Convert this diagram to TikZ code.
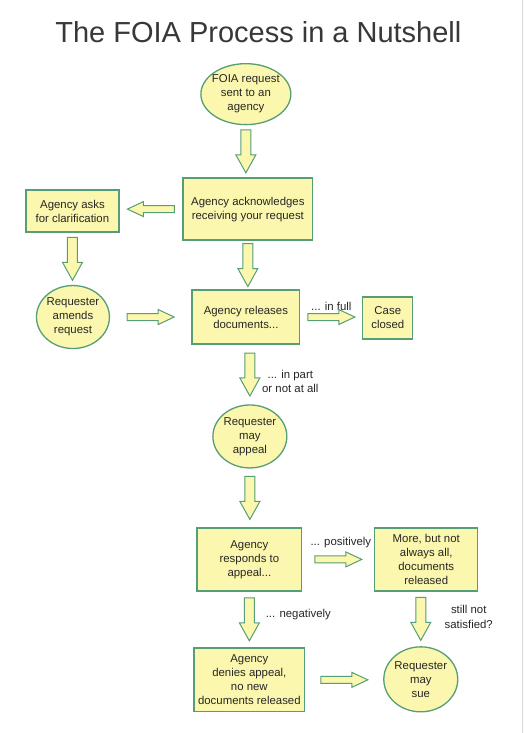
\documentclass[tikz,border=0pt]{standalone}
\usepackage{fontspec}
\setmainfont{Liberation Sans}
\usetikzlibrary{calc,shapes.geometric}

\definecolor{boxfill}{RGB}{251,247,174}
\definecolor{boxline}{RGB}{86,158,118}
\definecolor{inkgray}{RGB}{38,38,38}

\newcommand{\flowlen}{44}
\newcommand{\flowshaft}{5}
\newcommand{\flowhead}{10}
\newcommand{\flowtip}{18}

\tikzset{
  every node/.style={text=inkgray, font=\fontsize{11.4}{14}\selectfont},
  stepbox/.style={draw=boxline, fill=boxfill, line width=1.3pt, rectangle, align=center, inner sep=0pt},
  oval/.style={draw=boxline, fill=boxfill, line width=1.3pt, ellipse, align=center, inner xsep=-4pt, inner ysep=0pt},
  note/.style={align=center},
  tall/.code={\renewcommand{\flowlen}{43}\renewcommand{\flowshaft}{5}\renewcommand{\flowhead}{10}\renewcommand{\flowtip}{18}},
  flat/.code={\renewcommand{\flowlen}{47}\renewcommand{\flowshaft}{3.5}\renewcommand{\flowhead}{7.5}\renewcommand{\flowtip}{16}},
  flow/.style={draw=boxline, fill=boxfill, line width=1pt, line join=miter,
    to path={let \p1=(\tikztostart), \p2=(\tikztotarget),
                 \p3=($(\p1)!0.5!(\p2)$), \n1={atan2(\y2-\y1,\x2-\x1)} in
      {[shift={(\p3)}, rotate=\n1]
       ({-\flowlen/2},{-\flowshaft}) -- ({\flowlen/2-\flowtip},{-\flowshaft})
       -- ({\flowlen/2-\flowtip},{-\flowhead}) -- ({\flowlen/2},0)
       -- ({\flowlen/2-\flowtip},{\flowhead}) -- ({\flowlen/2-\flowtip},{\flowshaft})
       -- ({-\flowlen/2},{\flowshaft}) -- cycle}}}
}

\begin{document}
\begin{tikzpicture}[x=1pt,y=-1pt]
            \path[fill=white] (0,0) rectangle (525,733);
            \draw[gray!30] (522,0) -- (522,733);
            \node[font=\fontsize{29}{34}\selectfont, text=black!78, anchor=base] (title) at (258.5,42) {The FOIA Process in a Nutshell};

            \node[oval, minimum width=90, minimum height=61] (req) at (246,94) {FOIA request\\sent to an\\agency};
            \node[stepbox, minimum width=130, minimum height=62] (ack) at (248,209) {Agency acknowledges\\receiving your request};
            \node[stepbox, minimum width=93, minimum height=42] (ask) at (72.5,211) {Agency asks\\for clarification};
            \node[oval, minimum width=73, minimum height=63] (amend) at (73,317) {Requester\\amends\\request};
            \node[stepbox, minimum width=108, minimum height=54] (rel) at (246,317) {Agency releases\\documents...};
            \node[stepbox, minimum width=50, minimum height=42] (closed) at (388,318) {Case\\closed};
            \node[oval, minimum width=74, minimum height=63] (appeal) at (250,436.5) {Requester\\may\\appeal};
            \node[stepbox, minimum width=105, minimum height=63] (resp) at (249.5,559.5) {Agency\\responds to\\appeal...};
            \node[stepbox, minimum width=103, minimum height=63] (more) at (426.5,559.5) {More, but not\\always all,\\documents\\released};
            \node[stepbox, minimum width=111, minimum height=64] (deny) at (249.5,680) {Agency\\denies appeal,\\no new\\documents released};
            \node[oval, minimum width=74, minimum height=65] (sue) at (421,679.5) {Requester\\may\\sue};

            \node[note] (infull) at (331.5,306) {... in full};
            \node[note] (inpart) at (290.5,381.5) {... in part\\or not at all};
            \node[note] (positive) at (341,543) {... positively};
            \node[note] (negative) at (298.5,615) {... negatively};
            \node[note, font=\fontsize{11.4}{15}\selectfont] (unhappy) at (469,617.5) {still not\\satisfied?};

            \draw[flow, tall] (req.south) to (req.south |- ack.north);
            \draw[flow, flat] (ack.west) to (ack.west -| ask.east);
            \draw[flow, tall] (ask.south) to (ask.south |- amend.north);
            \draw[flow, flat] (amend.east) to (amend.east -| rel.west);
            \draw[flow, tall] (ack.south) to (ack.south |- rel.north);
            \draw[flow, flat] (rel.east) to (rel.east -| closed.west);
            \draw[flow, tall] (appeal.north |- rel.south) to (appeal.north);
            \draw[flow, tall] (appeal.south) to (appeal.south |- resp.north);
            \draw[flow, flat] (resp.east) to (resp.east -| more.west);
            \draw[flow, tall] (resp.south) to (resp.south |- deny.north);
            \draw[flow, tall] (sue.north |- more.south) to (sue.north);
            \draw[flow, flat] (deny.east) to (deny.east -| sue.west);
\end{tikzpicture}
\end{document}
